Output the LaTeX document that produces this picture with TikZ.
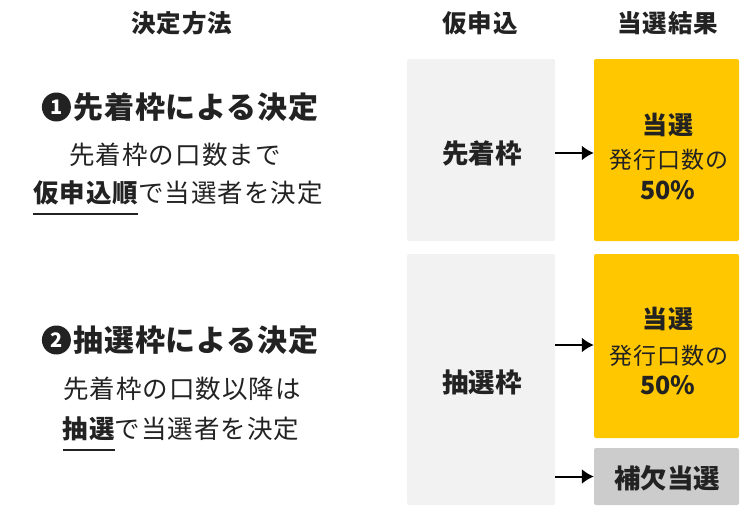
\documentclass[tikz,border=0pt]{standalone}
\usepackage{fontspec}
\setmainfont{Noto Sans CJK JP}
\usetikzlibrary{arrows.meta, positioning}
\definecolor{mainBlack}{HTML}{222222}
\definecolor{frameGray}{HTML}{F2F2F2}
\definecolor{winYellow}{HTML}{FFC700}
\definecolor{subGray}{HTML}{CCCCCC}
\newcommand{\setsize}[1]{\fontsize{#1}{#1}\selectfont}
\newcommand{\spaced}[1]{\addfontfeature{LetterSpace=#1}}
\newcommand{\ulword}[1]{\setbox0\hbox{\bfseries #1}\rlap{\smash{\rule[-12pt]{\wd0}{2pt}}}\box0}

\begin{document}
\begin{tikzpicture}[x=1pt, y=-1pt, >={Latex[length=12pt, width=15pt]},
    head/.style={text=mainBlack, font=\setsize{24.5}\bfseries\spaced{4}},
    title/.style={text=mainBlack, inner sep=0pt, font=\setsize{30}\bfseries\spaced{3}},
    desc/.style={text=mainBlack, inner sep=0pt, font=\setsize{25.5}\spaced{4}},
    numdot/.style={circle, fill=mainBlack, text=white, inner sep=0pt, minimum size=29pt, font=\setsize{20}\bfseries},
    box/.style={rounded corners=2pt, inner sep=0pt, minimum width=#1},
    label/.style={text=mainBlack, inner sep=0pt, font=\setsize{26.5}\bfseries}]
    \useasboundingbox (0,0) rectangle (750,514);

    % Column heads
    \node[head] at (182,23) {決定方法};
    \node[head] at (480,23) {仮申込};
    \node[head] at (668,23) {当選結果};

    % Method 1
    \node[title] (m1) at (196,107) {先着枠による決定};
    \node[numdot, left=2pt of m1] {1};
    \node[desc] at (175,155) {先着枠の口数まで};
    \node[desc] at (178,193) {\ulword{仮申込順}で当選者を決定};

    % Method 2
    \node[title] (m2) at (196,340) {抽選枠による決定};
    \node[numdot, left=2pt of m2] {2};
    \node[desc] at (182,389) {先着枠の口数以降は};
    \node[desc] at (181,429) {\ulword{抽選}で当選者を決定};

    % Applications
    \node[box=148pt, fill=frameGray, minimum height=182pt] (first) at (481,150) {};
    \node[label] at (482,153) {先着枠};
    \node[box=148pt, fill=frameGray, minimum height=251pt] (lottery) at (481,379.5) {};
    \node[label] at (482,382) {抽選枠};

    % Results
    \node[box=145pt, fill=winYellow, minimum height=182pt] (win1) at (666.5,150) {};
    \node[label, font=\setsize{25}\bfseries\spaced{2}] at (668,125) {当選};
    \node[label, font=\setsize{23}\spaced{5}] at (669,160) {発行口数の};
    \node[label, font=\setsize{25}\bfseries] at (668,190) {50\%};
    \node[box=145pt, fill=winYellow, minimum height=184pt] (win2) at (666.5,346) {};
    \node[label, font=\setsize{25}\bfseries\spaced{2}] at (668,319) {当選};
    \node[label, font=\setsize{23}\spaced{5}] at (669,356) {発行口数の};
    \node[label, font=\setsize{25}\bfseries] at (668,385) {50\%};
    \node[box=145pt, fill=subGray, minimum height=57pt] (spare) at (666.5,476.5) {};
    \node[label] at (667,478) {補欠当選};

    % Arrows
    \draw[->, line width=2pt] ([yshift=-3pt]first.east) -- ([yshift=-3pt]win1.west);
    \draw[->, line width=2pt] (first.east |- 0,345) coordinate (a2) -- (a2 -| win2.west);
    \draw[->, line width=2pt] (lottery.east |- spare) -- (spare.west);
\end{tikzpicture}
\end{document}
